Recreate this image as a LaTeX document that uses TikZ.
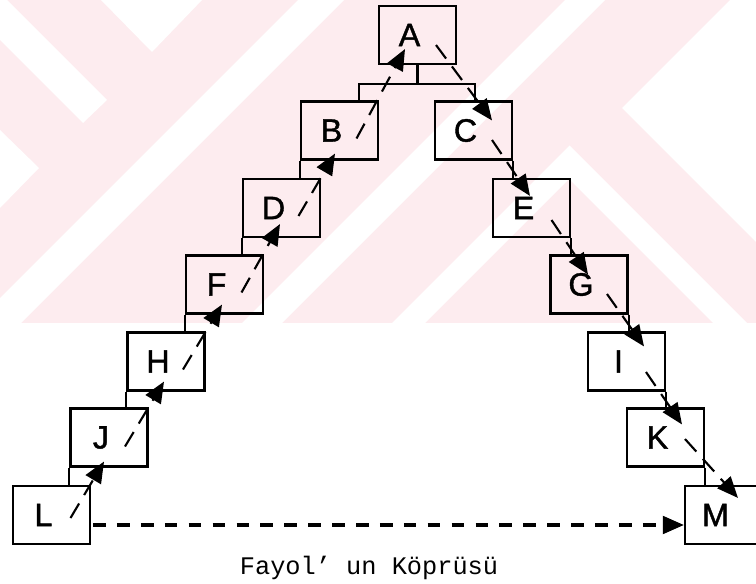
\documentclass[tikz,border=0pt]{standalone}
\usepackage{fontspec}
\setmainfont{Liberation Sans}
\newfontfamily\boxfont[FakeBold=1.2]{Liberation Sans}
\newfontfamily\capfont{Liberation Mono}
\usetikzlibrary{arrows.meta}
\definecolor{wmpink}{RGB}{253,236,239}
\tikzset{
	box/.style={draw, line width=1.5pt, minimum width=1.925cm, minimum height=1.45cm, inner sep=0pt},
	lbl/.style={xshift=-0.2cm, font=\boxfont\fontsize{23}{27}\selectfont},
	link/.style={line width=1.5pt},
	flow/.style={line width=1.5pt, dash pattern=on 12pt off 7pt, -{Triangle[length=15pt,width=12.5pt]}},
	base/.style={line width=2.4pt, dash pattern=on 9pt off 8pt, -{Triangle[length=15pt,width=12.5pt]}},
}
\begin{document}
\begin{tikzpicture}[x=0.025cm, y=-0.025cm]
	\useasboundingbox (0,0) rectangle (756,584);
	% faint stripes in the back
	\begin{scope}
		\clip (0,0) rectangle (756,323);
		\fill[wmpink] (0,0) rectangle (756,323);
		\fill[white] (107,100) -- (83,123) -- (-67,-27) -- (-43,-50) -- cycle;
		\fill[white] (100,-1) -- (203,-1) -- (152,52) -- cycle;
		\fill[white] (0,130) -- (39,168) -- (0,208) -- cycle;
		\fill[white] (298,0) -- (344,0) -- (0,344) -- (0,298) -- cycle;
		\fill[white] (565,0) -- (605,0) -- (282,323) -- (242,323) -- cycle;
		\fill[white] (730,0) -- (770,0) -- (770,256) -- (622,108) -- cycle;
		\fill[white] (569.5,145.5) -- (747,323) -- (713,323) -- (569,179) -- (425,323) -- (392,323) -- cycle;
	\end{scope}
	% boxes
	\node[box, label={[lbl]center:A}] (A) at (417.5,35) {};
	\node[box, label={[lbl]center:B}] (B) at (339.5,130.5) {};
	\node[box, label={[lbl]center:C}] (C) at (473.5,130.5) {};
	\node[box, label={[lbl]center:D}] (D) at (281.5,208) {};
	\node[box, label={[lbl]center:E}] (E) at (531.5,208) {};
	\node[box, label={[lbl]center:F}] (F) at (224.5,284.5) {};
	\node[box, label={[lbl]center:G}] (G) at (589,284.5) {};
	\node[box, label={[lbl]center:H}] (H) at (166,361.5) {};
	\node[box, label={[lbl]center:I}] (I) at (626.5,361.5) {};
	\node[box, label={[lbl]center:J}] (J) at (109,437.5) {};
	\node[box, label={[lbl]center:K}] (K) at (665.5,437.5) {};
	\node[box, label={[lbl]center:L}] (L) at (51.5,515) {};
	\node[box, label={[lbl]center:M}] (M) at (723.5,515) {};
	\node[font=\capfont\fontsize{18}{22}\selectfont] (cap) at (369,568) {Fayol’ un Köprüsü};
	% hierarchy lines
	\draw[link] (A.south) -- ++(0,19) coordinate (top);
	\draw[link] ([shift={(19.5,0)}]B.north) |- (top) -| ([shift={(1.5,0)}]C.north);
	\foreach \u/\v in {B/D,D/F,F/H,H/J,J/L}
		\draw[link] (\u.south west) -- (\u.south west |- \v.north);
	\foreach \u/\v in {C/E,E/G,G/I,I/K,K/M}
		\draw[link] (\u.south east) -- (\u.south east |- \v.north);
	% the chain up and down
	\foreach \u/\v/\p/\q in {L/J/{19,3}/{-5,-6}, J/H/{16,9}/{-2,-10}, H/F/{17,8}/{-2.5,-10},
		F/D/{17,8}/{-1.5,-14}, D/B/{17,8}/{-4.5,-7}, B/A/{17,8}/{-12.5,-16}}
		\draw[flow] ([shift={(\p)}]\u.center) -- ([shift={(\q)}]\v.south);
	\foreach \u/\v/\p/\q in {A/C/{18.5,10}/{18.5,20}, C/E/{18.5,9.5}/{-1.5,18}, E/G/{20,12}/{-1,20},
		G/I/{18,9.5}/{17.5,15}, I/K/{19.5,10.5}/{16.5,17}, K/M/{19.5,1.5}/{14.5,13}}
		\draw[flow] ([shift={(\p)}]\u.center) -- ([shift={(\q)}]\v.north);
	% the bridge
	\draw[base] ([shift={(2,10)}]L.east) -- ([shift={(0,10)}]M.west);
\end{tikzpicture}
\end{document}
